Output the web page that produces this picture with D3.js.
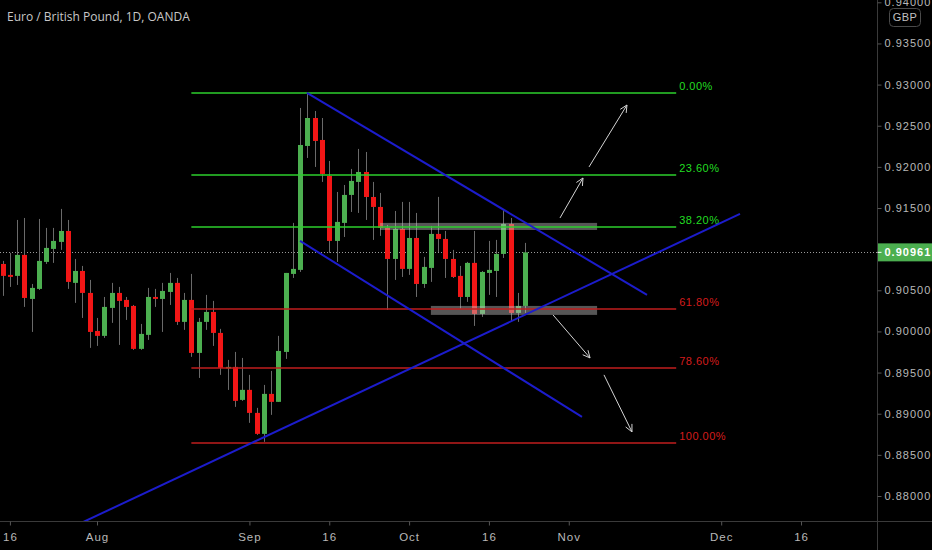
<!DOCTYPE html>
<html>
<head>
<meta charset="utf-8">
<script src="https://cdn.jsdelivr.net/npm/d3@7"></script>
<style>
  html, body { margin: 0; padding: 0; background: #000; }
  svg { display: block; }
</style>
</head>
<body>
<svg id="chart" width="932" height="550"></svg>
<script>
// ---------------- DATA ----------------
const title = "Euro / British Pound, 1D, OANDA";
const currency = "GBP";
const firstDate = "2020-07-15";   // first candle
const lastCalendarDate = "2020-12-31";

// daily OHLC, one per trading day starting at firstDate (73 candles)
const opens = [0.90820,0.90687,0.90675,0.90930,0.90395,0.90517,0.90845,0.91003,0.91088,0.91221,
  0.90590,0.90735,0.90468,0.90006,0.89946,0.90286,0.90468,0.90383,0.90310,0.89788,
  0.89958,0.90419,0.90395,0.90480,0.90590,0.90116,0.90383,0.89739,0.90116,0.90237,
  0.89982,0.89557,0.89569,0.89168,0.89290,0.89010,0.88755,0.89241,0.89144,0.89751,
  0.90699,0.90748,0.92254,0.92594,0.92327,0.91890,0.91100,0.91319,0.91659,0.91817,
  0.91938,0.91634,0.91513,0.91258,0.90881,0.91246,0.90760,0.91136,0.90577,0.90772,
  0.91185,0.91124,0.90881,0.90675,0.90419,0.90833,0.90213,0.90711,0.90735,0.90942,
  0.91306,0.90225,0.90310];
const highs = [0.90857,0.90954,0.91355,0.91379,0.90577,0.91367,0.91258,0.91258,0.91489,0.91355,
  0.90881,0.90796,0.90626,0.90164,0.90419,0.90590,0.90541,0.90419,0.90322,0.90091,
  0.90529,0.90517,0.90590,0.90711,0.90650,0.90468,0.90699,0.90164,0.90444,0.90371,
  0.90031,0.89654,0.89751,0.89678,0.89472,0.89071,0.89350,0.89520,0.89946,0.90711,
  0.91319,0.92716,0.92898,0.92679,0.92594,0.92072,0.91695,0.91780,0.91975,0.92218,
  0.92181,0.91817,0.91683,0.91294,0.91464,0.91574,0.91574,0.91440,0.90906,0.91282,
  0.91635,0.91221,0.90991,0.90796,0.90845,0.91221,0.90735,0.91100,0.91112,0.91477,
  0.91379,0.90468,0.91076];
const lows = [0.90432,0.90541,0.90565,0.90298,0.89994,0.90504,0.90820,0.90833,0.90991,0.90517,
  0.90347,0.90164,0.89800,0.89824,0.89921,0.90104,0.89836,0.90140,0.89776,0.89776,
  0.89897,0.90298,0.89994,0.90322,0.90079,0.90019,0.89691,0.89435,0.90019,0.89824,
  0.89472,0.89289,0.89083,0.89156,0.88889,0.88743,0.88658,0.88986,0.89144,0.89666,
  0.90650,0.90723,0.92108,0.91999,0.91817,0.90954,0.90845,0.91148,0.91452,0.91440,
  0.91355,0.91112,0.91161,0.90262,0.90626,0.90662,0.90687,0.90419,0.90529,0.90602,
  0.90966,0.90650,0.90650,0.90274,0.90359,0.90067,0.90176,0.90444,0.90419,0.90893,
  0.90116,0.90116,0.90225];
const closes = [0.90675,0.90663,0.90930,0.90407,0.90529,0.90857,0.91015,0.91100,0.91221,0.90602,
  0.90735,0.90468,0.89994,0.89946,0.90298,0.90468,0.90371,0.90298,0.89788,0.89970,
  0.90419,0.90395,0.90492,0.90590,0.90116,0.90383,0.89739,0.90116,0.90237,0.89982,
  0.89557,0.89569,0.89156,0.89290,0.89010,0.88755,0.89241,0.89144,0.89763,0.90711,
  0.90760,0.92266,0.92594,0.92315,0.91914,0.91100,0.91331,0.91659,0.91829,0.91938,
  0.91634,0.91513,0.91258,0.90881,0.91246,0.90760,0.91136,0.90577,0.90784,0.91185,
  0.91124,0.90881,0.90662,0.90419,0.90833,0.90213,0.90723,0.90748,0.90942,0.91306,
  0.90225,0.90310,0.90961];

const lastPrice = 0.90961;

// time axis labels
const xTickDates  = ["2020-07-16","2020-08-03","2020-09-01","2020-09-16","2020-10-01","2020-10-16","2020-11-02","2020-12-01","2020-12-16"];
const xTickLabels = ["16","Aug","Sep","16","Oct","16","Nov","Dec","16"];

// price axis labels (0.910 is hidden behind the last-price tag)
const yTickValues = [0.880,0.885,0.890,0.895,0.900,0.905,0.915,0.920,0.925,0.930,0.935,0.940];

// Fibonacci retracement (drawn from swing high to swing low)
const fibHigh = 0.92898, fibLow = 0.88650;
const fibRatios = [0, 0.236, 0.382, 0.618, 0.786, 1];
const fibLabels = ["0.00%","23.60%","38.20%","61.80%","78.60%","100.00%"];
const fibStartBar = 26, fibEndBar = 92.8;   // bar indexes

// trend lines: [bar index, price] pairs
const trendStarts = [[41.93,0.92898],[40.97,0.91100],[8.0,0.87556]];
const trendEnds   = [[88.78,0.90444],[79.82,0.88961],[101.59,0.91428]];

// highlighted zones: [startBar, endBar], [priceTop, priceBottom]
const zoneBars   = [[52.0,81.9],[59.0,81.9]];
const zonePrices = [[0.91319,0.91233],[0.90310,0.90201]];

// projection arrows: [bar, price] from -> to
const arrowFrom = [[76.79,0.91379],[80.79,0.91999],[75.83,0.90201],[82.85,0.89472]];
const arrowTo   = [[79.96,0.91865],[86.02,0.92752],[80.93,0.89678],[86.71,0.88779]];

// ---------------- CHART ----------------
const W = 932, H = 550;
const plotRight = 877.5, plotBottom = 521;
const svg = d3.select("#chart");
svg.append("rect").attr("width", W).attr("height", H).attr("fill", "#000");

// trading calendar (weekdays)
const parse = d3.timeParse("%Y-%m-%d");
const fmt = d3.timeFormat("%Y-%m-%d");
const calendar = d3.timeDay.range(parse(firstDate), d3.timeDay.offset(parse(lastCalendarDate), 1))
  .filter(d => d.getDay() !== 0 && d.getDay() !== 6);
const barIndex = new Map(calendar.map((d, i) => [fmt(d), i]));

const barStep = 7.258;
const x = d3.scaleLinear().domain([0, 100]).range([2.65, 2.65 + 100 * barStep]);
const y = d3.scaleLinear().domain([0.88, 0.94]).range([496.0, 2.3]);

const defs = svg.append("defs");
defs.append("clipPath").attr("id", "plotClip")
  .append("rect").attr("x", 0).attr("y", 0).attr("width", plotRight).attr("height", plotBottom);

const plot = svg.append("g").attr("clip-path", "url(#plotClip)");

// current price dotted line
plot.append("line")
  .attr("x1", 0).attr("x2", plotRight)
  .attr("y1", Math.round(y(lastPrice)) + 0.5).attr("y2", Math.round(y(lastPrice)) + 0.5)
  .attr("stroke", "#9a9a9a").attr("stroke-width", 1).attr("stroke-dasharray", "1,2");

// candles
const candles = opens.map((o, i) => ({i, o, h: highs[i], l: lows[i], c: closes[i]}));
const green = "#4caf50", red = "#f21616";
const cg = plot.append("g");
cg.selectAll("line.wick").data(candles).join("line")
  .attr("class", "wick")
  .attr("x1", d => Math.round(x(d.i)) + 0.5).attr("x2", d => Math.round(x(d.i)) + 0.5)
  .attr("y1", d => y(d.h)).attr("y2", d => y(d.l))
  .attr("stroke", "#6a6a6a").attr("stroke-width", 1);
cg.selectAll("rect.body").data(candles).join("rect")
  .attr("class", "body")
  .attr("x", d => Math.round(x(d.i)) - 2)
  .attr("width", 5)
  .attr("y", d => y(Math.max(d.o, d.c)))
  .attr("height", d => Math.max(1.5, Math.abs(y(d.o) - y(d.c))))
  .attr("fill", d => d.c >= d.o ? green : red);

// zones
zoneBars.forEach((b, k) => {
  plot.append("rect")
    .attr("x", x(b[0])).attr("width", x(b[1]) - x(b[0]))
    .attr("y", y(zonePrices[k][0])).attr("height", y(zonePrices[k][1]) - y(zonePrices[k][0]))
    .attr("fill", "rgba(190,190,190,0.45)");
});

// fib levels
fibRatios.forEach((r, k) => {
  const p = fibHigh - r * (fibHigh - fibLow);
  const isUp = r < 0.5;
  const yy = Math.round(y(p));
  plot.append("line")
    .attr("x1", x(fibStartBar)).attr("x2", x(fibEndBar))
    .attr("y1", yy).attr("y2", yy)
    .attr("stroke", isUp ? "#2ccf2c" : "#c01e1e").attr("stroke-width", 1.6);
  plot.append("text")
    .attr("x", x(fibEndBar) + 3).attr("y", yy - 3)
    .attr("fill", isUp ? "#22dd22" : "#d41c1c")
    .attr("font-family", "'Liberation Sans Narrow','Arial Narrow',sans-serif")
    .attr("font-size", 11).attr("letter-spacing", "0.5px")
    .text(fibLabels[k]);
});

// trend lines
trendStarts.forEach((s, k) => {
  const e = trendEnds[k];
  plot.append("line")
    .attr("x1", x(s[0])).attr("y1", y(s[1]))
    .attr("x2", x(e[0])).attr("y2", y(e[1]))
    .attr("stroke", "#1c1ccc").attr("stroke-width", 2);
});

// arrows
arrowFrom.forEach((f, k) => {
  const t = arrowTo[k];
  const x1 = x(f[0]), y1 = y(f[1]), x2 = x(t[0]), y2 = y(t[1]);
  const ang = Math.atan2(y2 - y1, x2 - x1);
  const L = 8, spread = 0.45;
  const g = plot.append("g").attr("stroke", "#d4d4d4").attr("stroke-width", 1).attr("fill", "none");
  g.append("line").attr("x1", x1).attr("y1", y1).attr("x2", x2).attr("y2", y2);
  g.append("path").attr("d",
    `M${x2 - L * Math.cos(ang - spread)},${y2 - L * Math.sin(ang - spread)} L${x2},${y2} L${x2 - L * Math.cos(ang + spread)},${y2 - L * Math.sin(ang + spread)}`);
});

// axes lines
svg.append("line").attr("x1", 0).attr("x2", W).attr("y1", plotBottom + 0.5).attr("y2", plotBottom + 0.5)
  .attr("stroke", "#3a3a3a");
svg.append("line").attr("x1", plotRight).attr("x2", plotRight).attr("y1", 0).attr("y2", H)
  .attr("stroke", "#3a3a3a");

const axisFont = "'Liberation Sans Narrow','Arial Narrow',sans-serif";

// bottom axis
const xTickIdx = xTickDates.map(d => barIndex.get(d));
const xAxis = d3.axisBottom(x).tickValues(xTickIdx).tickSize(4).tickPadding(7)
  .tickFormat((d, i) => xTickLabels[i]);
const gx = svg.append("g").attr("transform", `translate(0,${plotBottom + 0.5})`).call(xAxis);
gx.select(".domain").remove();
gx.selectAll(".tick line").attr("stroke", "#555");
gx.selectAll(".tick text").attr("fill", "#b8b8b8").attr("font-family", axisFont)
  .attr("font-size", 11.5).attr("letter-spacing", "1px");

// right axis
const yAxis = d3.axisRight(y).tickValues(yTickValues).tickSize(4).tickPadding(3)
  .tickFormat(d3.format(".5f"));
const gy = svg.append("g").attr("transform", `translate(${plotRight},0)`).call(yAxis);
gy.select(".domain").remove();
gy.selectAll(".tick line").attr("stroke", "#555");
gy.selectAll(".tick text").attr("fill", "#b8b8b8").attr("font-family", axisFont)
  .attr("font-size", 11).attr("letter-spacing", "1px");

// last price label
const ly = y(lastPrice);
svg.append("rect").attr("x", plotRight + 0.5).attr("y", ly - 9).attr("width", W - plotRight).attr("height", 18)
  .attr("fill", "#4caf50");
svg.append("line").attr("x1", plotRight).attr("x2", plotRight + 4).attr("y1", ly).attr("y2", ly)
  .attr("stroke", "#fff");
svg.append("text").attr("x", plotRight + 7).attr("y", ly).attr("dy", "0.35em")
  .attr("fill", "#ffffff").attr("font-family", axisFont).attr("font-weight", "bold")
  .attr("font-size", 11).attr("letter-spacing", "1px").text(d3.format(".5f")(lastPrice));

// currency box
svg.append("rect").attr("x", 889.5).attr("y", 8.5).attr("width", 31).attr("height", 18).attr("rx", 4)
  .attr("fill", "#000").attr("stroke", "#4a4a4a");
svg.append("text").attr("x", 905).attr("y", 17.5).attr("dy", "0.35em").attr("text-anchor", "middle")
  .attr("fill", "#c0c0c0").attr("font-family", axisFont).attr("font-size", 11).attr("letter-spacing", "0.5px")
  .text(currency);

// title
svg.append("text").attr("x", 7).attr("y", 21)
  .attr("fill", "#c8c8c8").attr("font-family", "'Open Sans','Noto Sans',sans-serif")
  .attr("font-size", 12).text(title);
</script>
</body>
</html>
